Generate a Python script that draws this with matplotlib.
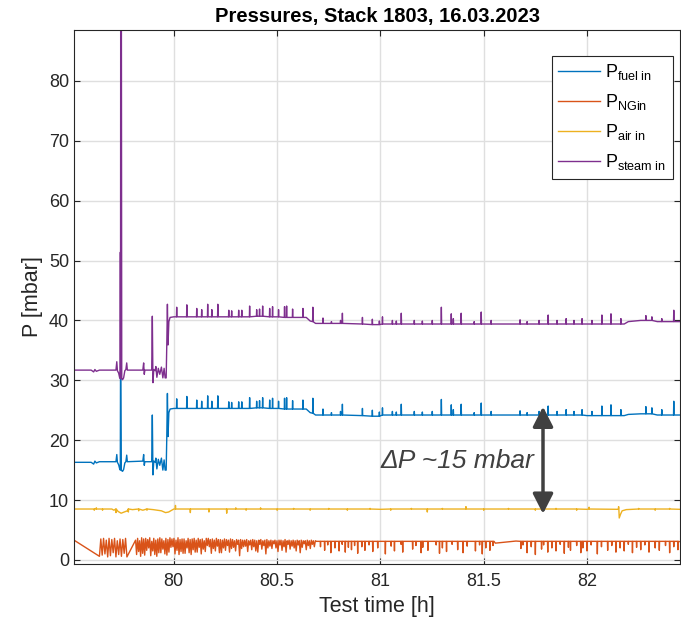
import numpy as np
import matplotlib
matplotlib.use("Agg")
import matplotlib.pyplot as plt

plt.rcParams['font.family'] = ['Liberation Sans', 'DejaVu Sans']
plt.rcParams['mathtext.fontset'] = 'custom'
plt.rcParams['mathtext.rm'] = 'Liberation Sans'
plt.rcParams['mathtext.it'] = 'Liberation Sans:italic'
plt.rcParams['mathtext.default'] = 'regular'

# ---------------- data ----------------
title = "Pressures, Stack 1803, 16.03.2023"
labels = [r"P$_{fuel\ in}$", r"P$_{NGin}$", r"P$_{air\ in}$", r"P$_{steam\ in}$"]
colors = ["#0072BD", "#D95319", "#EDB120", "#7E2F8E"]
xticks = [80, 80.5, 81, 81.5, 82]
xticklabels = ["80", "80.5", "81", "81.5", "82"]
yticks = [0, 10, 20, 30, 40, 50, 60, 70, 80]

# steam inlet pressure: base trace
steam_base_t = [79.517, 79.600, 79.612, 79.618, 79.625, 79.640, 79.720, 79.724, 79.727, 79.733,
                79.738, 79.741, 79.7415, 79.742, 79.7430, 79.7460, 79.748, 79.752, 79.757, 79.763,
                79.768, 79.772, 79.775, 79.850, 79.854, 79.857, 79.860, 79.893, 79.896, 79.899,
                79.903, 79.910, 79.913, 79.918, 79.925, 79.932, 79.940, 79.947, 79.953, 79.958,
                79.963, 79.966, 79.969, 79.972, 79.976, 79.982, 80.000, 80.200, 80.400, 80.600,
                80.641, 80.660, 80.686, 80.800, 80.900, 80.960, 81.020, 81.200, 81.400, 81.600,
                81.800, 82.000, 82.180, 82.200, 82.260, 82.300, 82.340, 82.450]
steam_base_v = [31.7, 31.7, 31.4, 31.8, 31.5, 31.7, 31.7, 33.1, 31.6, 31.2,
                30.4, 30.3, 51.4, 30.5, 100.0, 100.0, 30.2, 30.1, 30.4, 31.6,
                31.8, 32.9, 31.7, 31.7, 32.9, 31.0, 31.7, 31.7, 40.7, 29.6,
                31.8, 31.6, 32.3, 30.5, 32.0, 31.0, 32.2, 30.4, 32.0, 30.4,
                30.4, 36.0, 42.7, 35.9, 39.8, 40.5, 40.6, 40.6, 40.7, 40.5,
                40.5, 39.9, 39.5, 39.5, 39.4, 39.3, 39.4, 39.4, 39.4, 39.4,
                39.4, 39.4, 39.4, 39.8, 40.0, 40.0, 39.8, 39.8]

# fuel inlet pressure: base trace
fuel_base_t = steam_base_t
fuel_base_v = [16.3, 16.3, 16.0, 16.5, 16.2, 16.4, 16.4, 17.6, 16.3, 15.9,
               15.2, 15.0, 30.8, 30.8, 30.8, 15.0, 14.9, 14.8, 15.1, 16.2,
               16.4, 17.5, 16.4, 16.5, 17.6, 15.8, 16.4, 16.4, 24.2, 14.2,
               16.5, 16.3, 17.0, 15.2, 16.8, 15.8, 17.0, 15.0, 16.7, 15.0,
               15.0, 20.6, 27.8, 20.6, 24.6, 25.2, 25.3, 25.3, 25.4, 25.2,
               25.2, 24.6, 24.2, 24.2, 24.1, 24.0, 24.2, 24.2, 24.2, 24.2,
               24.2, 24.1, 24.1, 24.3, 24.4, 24.4, 24.2, 24.2]

# short pressure peaks (same events in fuel and steam lines)
spike_t = [80.014, 80.063, 80.111, 80.135, 80.164, 80.184, 80.213, 80.266, 80.280, 80.314,
           80.329, 80.367, 80.401, 80.415, 80.430, 80.464, 80.478, 80.507, 80.536, 80.546,
           80.575, 80.625, 80.673, 80.722, 80.763, 80.807, 80.816, 80.913, 80.961, 80.995,
           81.010, 81.058, 81.077, 81.101, 81.164, 81.203, 81.251, 81.295, 81.343, 81.353,
           81.391, 81.454, 81.488, 81.536, 81.676, 81.710, 81.768, 81.812, 81.855, 81.899,
           81.937, 81.976, 82.024, 82.072, 82.116, 82.164, 82.285, 82.314, 82.362, 82.420]
steam_foot = [40.6, 40.6, 40.6, 40.6, 40.6, 40.6, 40.6, 40.6, 40.6, 40.6,
              40.6, 40.6, 40.7, 40.7, 40.7, 40.6, 40.6, 40.6, 40.5, 40.5,
              40.5, 40.5, 39.8, 39.5, 39.5, 39.5, 39.5, 39.4, 39.3, 39.3,
              39.4, 39.4, 39.4, 39.4, 39.4, 39.4, 39.4, 39.4, 39.4, 39.4,
              39.4, 39.4, 39.4, 39.4, 39.4, 39.4, 39.4, 39.4, 39.4, 39.4,
              39.4, 39.4, 39.4, 39.4, 39.4, 39.4, 40.0, 40.0, 39.8, 39.8]
steam_peak = [42.2, 42.6, 42.0, 41.8, 42.7, 41.8, 42.7, 41.7, 41.6, 41.7,
              41.7, 42.4, 41.8, 41.9, 42.4, 42.0, 42.3, 41.8, 42.3, 42.4,
              41.9, 42.0, 42.2, 40.4, 39.8, 40.0, 41.2, 40.5, 40.2, 39.9,
              40.6, 40.0, 39.9, 41.2, 40.0, 39.9, 40.0, 42.2, 41.1, 40.3,
              41.2, 39.8, 41.4, 40.0, 40.1, 39.8, 40.0, 40.9, 40.0, 40.3,
              40.0, 40.3, 40.0, 40.9, 41.1, 40.3, 40.8, 40.6, 40.3, 41.7]
fuel_foot = [25.3, 25.3, 25.3, 25.3, 25.3, 25.3, 25.3, 25.3, 25.3, 25.3,
             25.3, 25.3, 25.4, 25.4, 25.4, 25.3, 25.3, 25.3, 25.2, 25.2,
             25.2, 25.2, 24.5, 24.2, 24.2, 24.2, 24.2, 24.1, 24.0, 24.0,
             24.2, 24.2, 24.2, 24.2, 24.2, 24.2, 24.2, 24.2, 24.2, 24.2,
             24.2, 24.2, 24.2, 24.2, 24.2, 24.2, 24.2, 24.2, 24.2, 24.2,
             24.2, 24.2, 24.1, 24.1, 24.1, 24.1, 24.4, 24.4, 24.2, 24.2]
fuel_peak = [26.9, 27.3, 26.7, 26.5, 27.4, 26.5, 27.4, 26.4, 26.3, 26.4,
             26.4, 27.1, 26.5, 26.6, 27.1, 26.7, 27.0, 26.5, 27.0, 27.1,
             26.6, 26.7, 27.0, 25.2, 24.6, 24.8, 26.0, 25.3, 25.0, 24.7,
             25.4, 24.8, 24.7, 26.0, 24.8, 24.7, 24.8, 26.8, 25.9, 25.1,
             26.0, 24.6, 26.2, 24.8, 24.9, 24.6, 24.8, 25.7, 24.8, 25.1,
             24.8, 25.1, 24.8, 25.7, 25.9, 25.1, 25.6, 25.4, 25.1, 26.5]

# air inlet pressure
air_base_t = [79.517, 79.700, 79.710, 79.730, 79.745, 79.760, 79.775, 79.800, 79.850, 79.900,
              79.940, 79.960, 79.975, 79.990, 80.000, 80.200, 80.500, 81.000, 81.500, 82.000,
              82.150, 82.156, 82.162, 82.170, 82.190, 82.450]
air_base_v = [8.5, 8.5, 8.3, 8.1, 7.8, 8.0, 8.2, 8.4, 8.3, 8.4,
              8.2, 7.9, 8.0, 8.3, 8.5, 8.5, 8.45, 8.45, 8.45, 8.45,
              8.45, 7.0, 7.6, 8.2, 8.4, 8.45]
air_spike_t = [79.615, 79.625, 79.655, 79.720, 79.780, 79.830, 79.870, 80.008, 80.080, 80.170,
               80.256, 80.300, 80.350, 80.420, 80.500, 80.580, 80.660, 80.750, 80.840, 80.950,
               81.050, 81.150, 81.227, 81.300, 81.414, 81.500, 81.620, 81.750, 81.850, 81.950,
               82.010, 82.153, 82.250, 82.330, 82.400]
air_spike_v = [8.3, 8.7, 8.3, 7.9, 8.0, 8.2, 8.3, 9.1, 7.9, 8.0,
               7.8, 8.7, 8.3, 8.7, 8.3, 8.6, 8.3, 8.6, 8.3, 8.6,
               8.3, 8.6, 8.0, 8.6, 8.9, 8.3, 8.6, 8.3, 8.6, 8.3,
               8.8, 8.9, 8.6, 8.3, 8.6]
air_level = 8.5

# natural gas inlet pressure
ng_start_t = [79.517]
ng_start_v = [3.3]
ng_a_v = [0.6, 3.5, 0.8, 3.6, 1.0, 3.3, 0.5, 3.6, 0.7, 3.4, 1.2, 3.6, 0.5, 3.2, 0.9,
          3.5, 0.6, 3.4, 1.1, 3.6, 0.5]
ng_a_span = (79.640, 79.773)
ng_b_v = [3.3, 0.9, 3.6, 1.4, 3.2, 0.6, 3.7, 1.1, 3.5, 0.8, 3.6, 1.6,
          3.4, 2.0, 3.7, 0.7, 3.1, 1.5, 3.6, 0.9, 3.3, 0.6, 3.5, 1.2,
          3.7, 1.2, 3.5, 1.8, 3.2, 1.0, 3.6, 0.8, 3.4, 1.3, 3.7, 2.1,
          3.5, 2.2, 3.6, 1.0, 3.3, 1.6, 3.7, 0.9, 3.4, 1.4, 3.5, 1.1,
          3.5, 1.1, 3.2, 2.0, 3.6, 1.2, 3.4, 0.9, 3.5, 1.7, 3.6, 1.3,
          3.3, 1.3, 3.6, 2.1, 3.4, 1.0, 3.5, 1.8, 3.2, 1.4, 3.6, 2.4,
          3.6, 2.2, 3.4, 1.1, 3.5, 1.9, 3.3, 1.5, 3.6, 2.3, 3.4, 1.2,
          3.4, 1.2, 3.3, 2.0, 3.5, 1.6, 3.4, 2.4, 3.3, 1.3, 3.5, 1.9,
          3.4, 2.1, 3.2, 1.5, 3.4, 2.6, 3.3, 0.7, 3.4, 1.9, 3.3, 2.2,
          3.3, 2.3, 3.4, 1.4, 3.2, 2.5, 3.3, 1.7, 3.4, 2.2, 3.3, 1.5,
          3.2, 1.3, 3.3, 2.6, 3.4, 1.8, 3.2, 2.4, 3.3, 1.0, 3.4, 2.0,
          3.2, 2.3, 3.3, 1.9, 3.2, 2.7, 3.3, 2.0, 3.2, 1.4, 3.3, 2.5,
          3.3, 1.6, 3.2, 2.2, 3.4, 1.3, 3.2, 2.6, 3.3, 1.8, 3.2, 2.3,
          3.3, 2.0, 3.2, 1.5, 3.3, 2.5, 3.2, 1.2, 3.3, 2.1, 3.2, 2.7,
          3.2, 1.7, 3.3, 2.4, 3.2, 1.9, 3.3, 2.6, 3.2, 2.2, 3.2, 3.1]
ng_b_span = (79.815, 80.690)
ng_late_t = [80.700, 81.550, 81.556, 81.656, 82.450]
ng_late_v = [3.1, 3.1, 2.8, 3.15, 3.05]
ng_spike_t = [80.710, 80.730, 80.745, 80.760, 80.780, 80.800, 80.815, 80.830, 80.845, 80.860,
              80.875, 80.890, 80.910, 80.925, 80.945, 80.963, 80.987, 81.024, 81.052, 81.068,
              81.100, 81.108, 81.156, 81.172, 81.197, 81.205, 81.230, 81.270, 81.286, 81.300,
              81.320, 81.347, 81.374, 81.400, 81.420, 81.460, 81.480, 81.493, 81.510, 81.530,
              81.545, 81.680, 81.690, 81.710, 81.730, 81.750, 81.780, 81.790, 81.810, 81.830,
              81.850, 81.870, 81.890, 81.910, 81.920, 81.950, 81.970, 81.980, 82.000, 82.020,
              82.050, 82.070, 82.100, 82.120, 82.140, 82.160, 82.180, 82.200, 82.220, 82.240,
              82.260, 82.280, 82.300, 82.330, 82.350, 82.380, 82.400, 82.420, 82.440]
ng_spike_v = [2.2, 1.6, 2.5, 1.2, 2.0, 1.5, 2.6, 1.3, 2.1, 1.7,
              2.4, 1.1, 2.2, 1.6, 2.5, 1.4, 2.0, 1.0, 2.3, 1.5,
              2.6, 1.3, 1.8, 2.4, 1.2, 2.1, 1.6, 2.5, 1.1, 2.0,
              1.4, 2.6, 1.7, 1.2, 2.3, 1.5, 2.5, 1.0, 2.0, 1.6,
              2.4, 1.9, 2.5, 1.2, 2.2, 0.9, 1.8, 2.5, 1.3, 2.0,
              1.5, 2.6, 1.1, 2.1, 1.6, 2.4, 1.2, 2.0, 1.5, 2.5,
              1.0, 2.2, 1.6, 2.4, 1.3, 2.0, 1.5, 2.6, 1.2, 2.1,
              1.7, 2.5, 1.3, 2.0, 1.6, 2.4, 1.2, 2.2, 1.7]
ng_level = 3.1

# annotation
arrow_t = 81.787
arrow_top = 25.6
arrow_bottom = 7.7
dp_text = "\u0394P ~15 mbar"


def with_spikes(base_t, base_v, sp_t, sp_foot, sp_peak, w=0.0012):
    t = list(base_t)
    v = list(base_v)
    for ti, f, p in zip(sp_t, sp_foot, sp_peak):
        t += [ti - w, ti, ti + w]
        v += [f, p, f]
    order = np.argsort(np.array(t), kind="stable")
    return np.array(t)[order], np.array(v)[order]


fuel_t, fuel_v = with_spikes(fuel_base_t, fuel_base_v, spike_t, fuel_foot, fuel_peak)
steam_t, steam_v = with_spikes(steam_base_t, steam_base_v, spike_t, steam_foot, steam_peak)
air_t, air_v = with_spikes(air_base_t, air_base_v, air_spike_t,
                           [air_level] * len(air_spike_t), air_spike_v)
ng_late_tt, ng_late_vv = with_spikes(ng_late_t, ng_late_v, ng_spike_t,
                                     [ng_level] * len(ng_spike_t), ng_spike_v)
ng_t = np.concatenate([ng_start_t,
                       np.linspace(ng_a_span[0], ng_a_span[1], len(ng_a_v)),
                       np.linspace(ng_b_span[0], ng_b_span[1], len(ng_b_v)),
                       ng_late_tt])
ng_v = np.concatenate([ng_start_v, ng_a_v, ng_b_v, ng_late_vv])

# ---------------- plot ----------------
fig = plt.figure(figsize=(6.81, 6.23), dpi=100)
ax = fig.add_axes([0.1087, 0.0955, 0.8898, 0.8563])

lw = 1.0
ax.plot(fuel_t, fuel_v, color=colors[0], lw=lw, label=labels[0])
ax.plot(ng_t, ng_v, color=colors[1], lw=lw, label=labels[1])
ax.plot(air_t, air_v, color=colors[2], lw=lw, label=labels[2])
ax.plot(steam_t, steam_v, color=colors[3], lw=lw, label=labels[3])

ax.set_xlim(79.517, 82.45)
ax.set_ylim(-0.6, 88.5)
ax.set_xticks(xticks)
ax.set_xticklabels(xticklabels)
ax.set_yticks(yticks)

tc = "#262626"
ax.grid(True, color="#dfdfdf", lw=1.0)
ax.set_axisbelow(True)
ax.tick_params(direction="in", length=4, width=0.8, colors=tc, labelsize=13,
               top=True, right=True, labelcolor=tc)
ax.tick_params(axis="x", pad=7)
for s in ax.spines.values():
    s.set_color(tc)
    s.set_linewidth(0.8)

ax.set_title(title, fontsize=14.5, fontweight="bold", color="black", pad=6)
ax.set_xlabel("Test time [h]", fontsize=15.5, color=tc, labelpad=4)
ax.set_ylabel("P [mbar]", fontsize=15.5, color=tc, labelpad=4)

ax.annotate("", xy=(arrow_t, arrow_top), xytext=(arrow_t, arrow_bottom),
            arrowprops=dict(arrowstyle="<|-|>,head_length=0.55,head_width=0.28",
                            color="#404040", lw=2.5, mutation_scale=22,
                            shrinkA=0, shrinkB=0))
ax.text(81.745, 16.6, dp_text, fontsize=19, style="italic", color="#404040",
        ha="right", va="center")

leg = ax.legend(loc="upper right", bbox_to_anchor=(0.988, 0.951), borderaxespad=0,
                fontsize=13, handlelength=2.3, labelspacing=0.55, handletextpad=0.3,
                fancybox=False, framealpha=1, edgecolor=tc, borderpad=0.35)
leg.get_frame().set_linewidth(0.8)

fig.savefig("out.png", dpi=100)
